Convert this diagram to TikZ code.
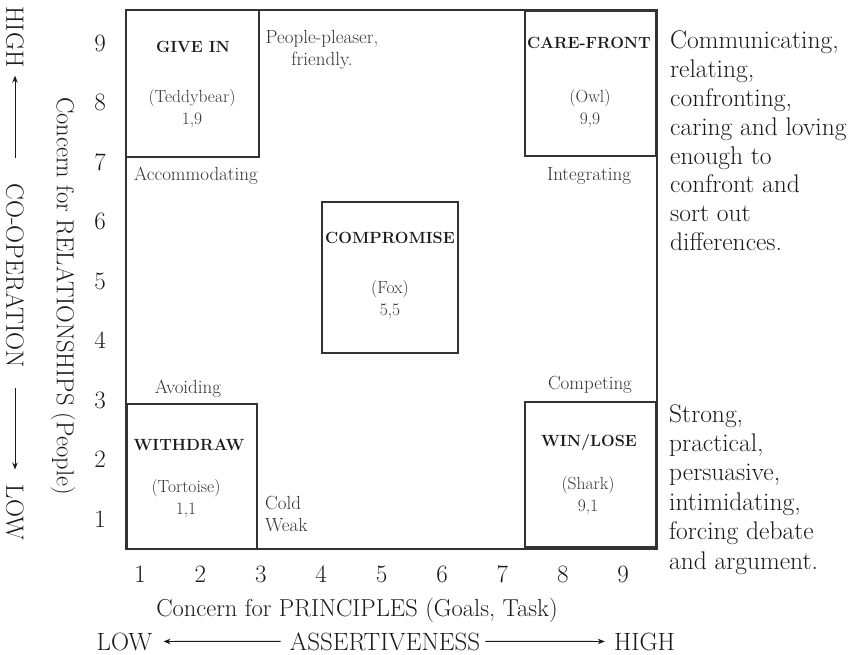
\documentclass[tikz,border=0pt]{standalone}
\usepackage{fontspec}
\usetikzlibrary{arrows.meta,calc}
\definecolor{ink}{HTML}{1A1A1A}
\definecolor{soft}{HTML}{333333}
\definecolor{framec}{HTML}{333333}
\begin{document}
\begin{tikzpicture}[x=1pt,y=-1pt,
  every node/.style={inner sep=0pt, text=ink},
  box/.style={draw=framec, line width=1.2pt, rectangle},
  ttl/.style={font=\fontsize{16.2}{19}\selectfont\bfseries},
  sub/.style={font=\fontsize{17.5}{22}\selectfont, align=center, text=soft},
  lbl/.style={font=\fontsize{19}{22}\selectfont, text=soft},
  tick/.style={font=\fontsize{25}{28}\selectfont},
  axl/.style={font=\fontsize{24.5}{28}\selectfont},
  big/.style={font=\fontsize{25}{28}\selectfont},
  side/.style={font=\fontsize{25.5}{29}\selectfont, anchor=base west},
  arr/.style={draw=ink, line width=0.9pt, -{Stealth[length=7pt,width=5.5pt]}}
]
\useasboundingbox (0,0) rectangle (860,655);

% frame and boxes
\node[box, minimum width=531pt, minimum height=539pt] (frame) at (391.5,279.5) {};
\node[box, minimum width=133pt, minimum height=147pt] (bgive) at (192.5,83.5) {};
\node[box, minimum width=130.5pt, minimum height=145pt] (bcare) at (590.25,83.5) {};
\node[box, minimum width=136pt, minimum height=151pt] (bcomp) at (390,277.5) {};
\node[box, minimum width=130pt, minimum height=145pt] (bwith) at (192,476.5) {};
\node[box, minimum width=130.5pt, minimum height=145pt] (bwin) at (590.25,474.5) {};

% box texts
\node[ttl] (tgive) at (193,46.5) {GIVE IN};
\node[sub] (sgive) at (192,109) {(Teddybear)\\1,9};
\node[ttl] (tcare) at (589,43) {CARE-FRONT};
\node[sub] (scare) at (590,109) {(Owl)\\9,9};
\node[ttl] (tcomp) at (390,237.5) {COMPROMISE};
\node[sub] (scomp) at (390,300) {(Fox)\\5,5};
\node[ttl] (twith) at (189,444.5) {WITHDRAW};
\node[sub] (swith) at (186,499) {(Tortoise)\\1,1};
\node[ttl] (twin) at (589,442.5) {WIN/LOSE};
\node[sub] (swin) at (588,496) {(Shark)\\9,1};

% outside labels
\node[lbl, align=center] (pp) at (322,50) {People-pleaser,\\friendly.};
\node[lbl] (acc) at (196,176) {Accommodating};
\node[lbl] (integ) at (589,176) {Integrating};
\node[lbl] (avoid) at (188,389) {Avoiding};
\node[lbl] (compet) at (590,385) {Competing};
\node[lbl, align=left, anchor=west] (cw) at (265,514.5) {Cold\\Weak};

% ticks
\foreach \k in {1,...,9} {
  \node[tick] (y\k) at (100,{519-(\k-1)*59.5}) {\k};
  \node[tick] (x\k) at ({140+(\k-1)*60.4},574) {\k};
}

% axis labels
\node[axl, anchor=base] (xlab) at (357,616) {Concern for PRINCIPLES (Goals, Task)};
\node[axl, rotate=-90] (ylab) at (63,296) {Concern for RELATIONSHIPS (People)};

% assertiveness
\node[big, anchor=base] (low) at (124.5,650) {LOW};
\node[big, anchor=base] (assert) at (385,650) {ASSERTIVENESS};
\node[big, anchor=base] (high) at (644.5,650) {HIGH};
\draw[arr, shorten <=9pt, shorten >=11pt] (assert.west) -- (low.east);
\draw[arr, shorten <=5pt, shorten >=9pt] (assert.east) -- (high.west);

% co-operation
\node[big, rotate=-90] (vhigh) at (15,37) {HIGH};
\node[big, rotate=-90] (coop) at (15,275.5) {CO-OPERATION};
\node[big, rotate=-90] (vlow) at (15,512.5) {LOW};
\draw[arr, shorten <=25pt, shorten >=8pt] (coop.west) -- (vhigh.east);
\draw[arr, shorten <=20pt, shorten >=15pt] (coop.east) -- (vlow.west);

% side descriptions
\foreach[count=\i] \t in {{Communicating,},{relating,},{confronting,},{caring and loving},{enough to},{confront and},{sort out},{differences.}}
  \node[side] (ra\i) at (670,{49+(\i-1)*28.8}) {\t};
\foreach[count=\i] \t in {{Strong,},{practical,},{persuasive,},{intimidating,},{forcing debate},{and argument.}}
  \node[side] (rb\i) at (669,{422+(\i-1)*29.4}) {\t};
\end{tikzpicture}
\end{document}
